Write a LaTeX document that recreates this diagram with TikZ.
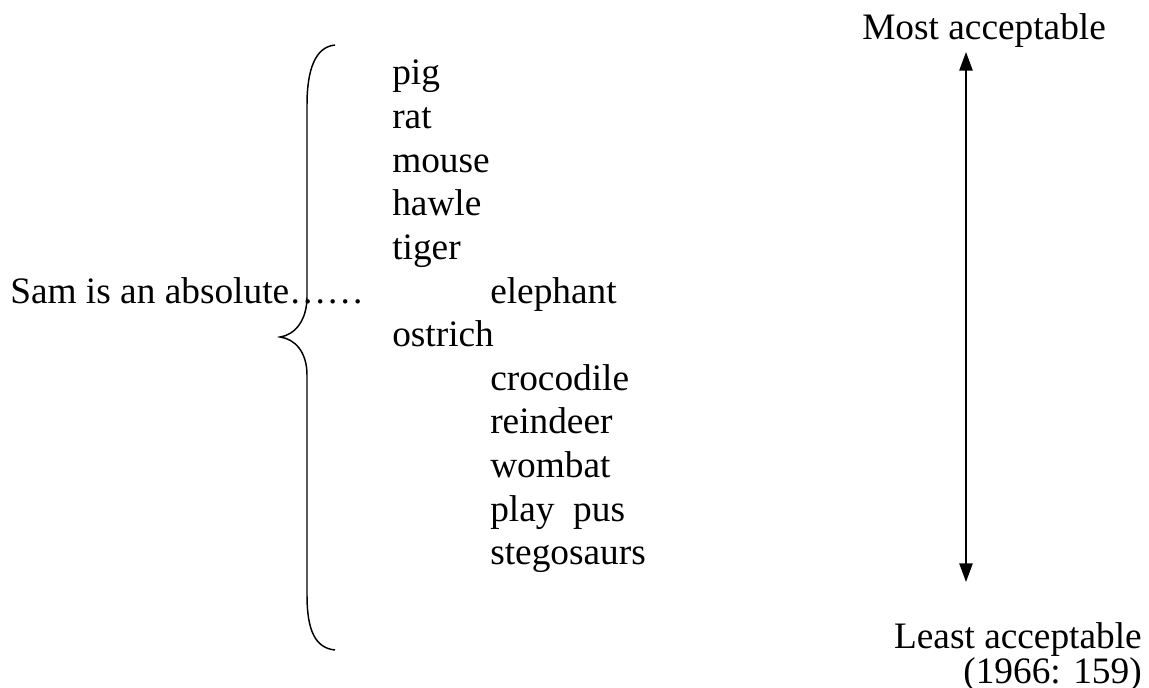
\documentclass[tikz,border=0pt]{standalone}
\usepackage{fontspec}
\setmainfont{Liberation Serif}
\usetikzlibrary{arrows.meta}

\begin{document}
\begin{tikzpicture}[x=0.75pt, y=-0.75pt,
    word/.style={anchor=base west, inner sep=0pt, font=\fontsize{28}{33}\selectfont},
    rword/.style={anchor=base east, inner sep=0pt, font=\fontsize{28}{33}\selectfont}]
    \useasboundingbox (0,0) rectangle (1149,688);

    \node[word] (sam) at (10,303) {Sam is an absolute……};

    \draw[line width=1.1pt] (335,45) .. controls (315,47) and (307,70) .. (307,105) -- (307,297)
      .. controls (307,320) and (295,335) .. (280,337)
      .. controls (295,339) and (307,352) .. (307,375) -- (307,595)
      .. controls (307,630) and (315,648) .. (335,650);

    \node[word] (pig) at (392,85) {pig};
    \node[word] (rat) at (392,128.6) {rat};
    \node[word] (mouse) at (392,172.2) {mouse};
    \node[word] (hawle) at (392,215.8) {hawle};
    \node[word] (tiger) at (392,259.4) {tiger};
    \node[word] (elephant) at (490,303) {elephant};
    \node[word] (ostrich) at (392,346.6) {ostrich};
    \node[word] (crocodile) at (490,390.2) {crocodile};
    \node[word] (reindeer) at (490,433.8) {reindeer};
    \node[word] (wombat) at (490,477.4) {wombat};
    \node[word] (platypus) at (490,521) {play\ \ pus};
    \node[word] (stego) at (490,564.6) {stegosaurs};

    \node[word] (most) at (862,40) {Most acceptable};
    \node[rword] (least) at (1142,648) {Least acceptable};
    \node[rword] (ref) at (1142,683) {(1966: 159)};

    \coordinate (top) at (966,52);
    \coordinate (bot) at (966,582);
    \draw[line width=1.2pt, {Triangle[width=10pt,length=14pt]}-{Triangle[width=10pt,length=14pt]}] (top) -- (bot);
\end{tikzpicture}
\end{document}
